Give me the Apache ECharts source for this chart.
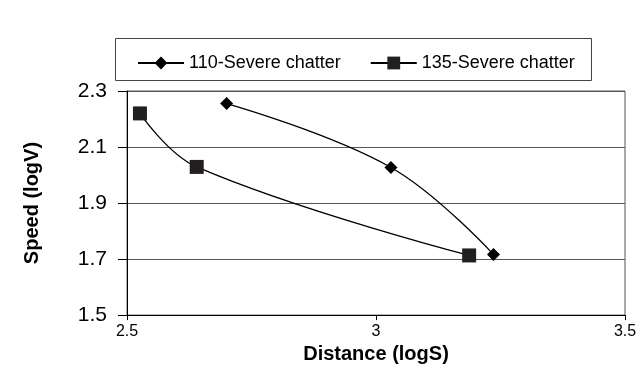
<!DOCTYPE html>
<html>
<head>
<meta charset="utf-8">
<script src="https://cdn.jsdelivr.net/npm/echarts@6/dist/echarts.min.js"></script>
<style>
  html, body { margin: 0; padding: 0; background: #fff; }
  #chart { width: 640px; height: 369px; }
</style>
</head>
<body>
<div id="chart"></div>
<script>
// values
const seriesNames = ['110-Severe chatter', '135-Severe chatter'];
const dist110 = [2.70, 3.03, 3.236];
const speed110 = [2.255, 2.027, 1.716];
const dist135 = [2.526, 2.64, 3.187];
const speed135 = [2.22, 2.029, 1.713];

const pairs = (xs, ys) => xs.map((x, i) => [x, ys[i]]);

const font = 'Liberation Sans, Arial, sans-serif';
const myChart = echarts.init(document.getElementById('chart'));

const option = {
  animation: false,
  backgroundColor: '#fff',
  textStyle: { fontFamily: font, color: '#000' },
  graphic: [
    {
      type: 'rect',
      shape: { x: 115.5, y: 38.5, width: 476, height: 42 },
      style: { fill: '#fff', stroke: '#444', lineWidth: 1 },
      z: 0
    }
  ],
  legend: {
    left: 132,
    top: 49,
    itemWidth: 46,
    itemHeight: 16,
    itemGap: 29,
    textStyle: { fontSize: 18, color: '#000', fontFamily: font },
    data: seriesNames,
    z: 5
  },
  grid: {
    left: 127,
    right: 15,
    top: 91,
    bottom: 52,
    show: true,
    borderColor: '#555',
    borderWidth: 1
  },
  xAxis: {
    type: 'value',
    min: 2.5,
    max: 3.5,
    interval: 0.5,
    name: 'Distance (logS)',
    nameLocation: 'middle',
    nameGap: 27,
    nameTextStyle: { fontSize: 20, fontWeight: 'bold', color: '#000' },
    axisLine: { lineStyle: { color: '#000', width: 1 } },
    axisTick: { show: true, length: 5, lineStyle: { color: '#000' } },
    axisLabel: { fontSize: 16, color: '#000', margin: 8 },
    splitLine: { show: false }
  },
  yAxis: {
    type: 'value',
    min: 1.5,
    max: 2.3,
    interval: 0.2,
    name: 'Speed (logV)',
    nameLocation: 'middle',
    nameGap: 85,
    nameRotate: 90,
    nameTextStyle: { fontSize: 20, fontWeight: 'bold', color: '#000' },
    axisLine: { show: true, lineStyle: { color: '#000', width: 1 } },
    axisTick: { show: true, length: 9, lineStyle: { color: '#000' } },
    axisLabel: { fontSize: 21, color: '#000', margin: 20,
      formatter: v => v.toFixed(1) },
    splitLine: { show: true, lineStyle: { color: '#555', width: 1 } }
  },
  series: [
    {
      name: seriesNames[0],
      type: 'line',
      smooth: 0.4,
      data: pairs(dist110, speed110),
      symbol: 'diamond',
      symbolSize: 13,
      lineStyle: { color: '#000', width: 1.3 },
      itemStyle: { color: '#000' }
    },
    {
      name: seriesNames[1],
      type: 'line',
      smooth: 0.4,
      data: pairs(dist135, speed135),
      symbol: 'rect',
      symbolSize: 14,
      lineStyle: { color: '#000', width: 1.3 },
      itemStyle: { color: '#231f20' }
    }
  ]
};

myChart.setOption(option);
</script>
</body>
</html>
